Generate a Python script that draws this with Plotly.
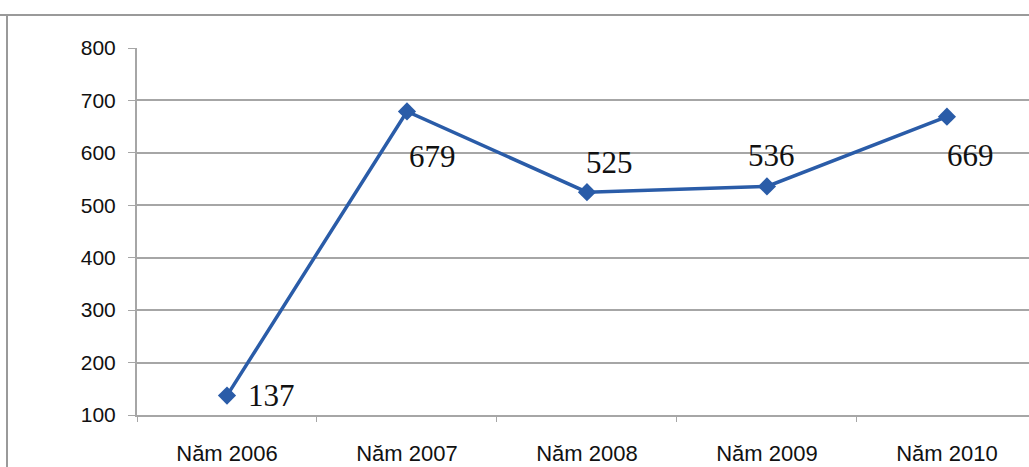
import plotly.graph_objects as go

# Số liệu theo năm
categories = ["Năm 2006", "Năm 2007", "Năm 2008", "Năm 2009", "Năm 2010"]
values = [137, 679, 525, 536, 669]

# Độ lệch nhãn giá trị so với điểm (px)
label_dx = [45, 26, 23, 5, 24]
label_dy = [0, -45, 30, 31, -39]

line_color = "#2a5ca8"
grid_color = "#a6a6a6"

fig = go.Figure()
fig.add_trace(go.Scatter(
    x=categories, y=values, mode="lines+markers",
    line=dict(color=line_color, width=3.5),
    marker=dict(symbol="diamond", size=14, color=line_color),
    hoverinfo="skip", showlegend=False,
))

for c, v, dx, dy in zip(categories, values, label_dx, label_dy):
    fig.add_annotation(
        x=c, y=v, text=str(v), showarrow=False,
        xshift=dx, yshift=dy,
        font=dict(family="Liberation Serif", size=31, color="#111111"),
    )

# Khung viền ngoài
fig.add_shape(type="line", xref="paper", yref="paper",
              x0=-137 / 892, x1=1.0, y0=1 + 33 / 367, y1=1 + 33 / 367,
              line=dict(color="#9a9a9a", width=2))
fig.add_shape(type="line", xref="paper", yref="paper",
              x0=-130 / 892, x1=-130 / 892, y0=1 + 33 / 367, y1=-52 / 367,
              line=dict(color="#9a9a9a", width=2))

fig.update_layout(
    width=1029, height=467,
    margin=dict(l=137, r=0, t=48, b=52),
    paper_bgcolor="white", plot_bgcolor="white",
    font=dict(family="Liberation Sans", color="#111111"),
)
fig.update_xaxes(
    type="category", range=[-0.5, 4.456],
    showgrid=False, showline=True, linecolor=grid_color, linewidth=2,
    ticks="outside", ticklen=5, tickcolor=grid_color, tickson="boundaries",
    tickfont=dict(size=22), ticklabelstandoff=18, zeroline=False,
)
fig.update_yaxes(
    range=[100, 800], dtick=100,
    showgrid=True, gridcolor=grid_color, gridwidth=2,
    showline=True, linecolor=grid_color, linewidth=2,
    ticks="outside", ticklen=7, tickcolor=grid_color,
    tickfont=dict(size=21), ticklabelstandoff=8, zeroline=False,
)

fig.write_html("out.html")
